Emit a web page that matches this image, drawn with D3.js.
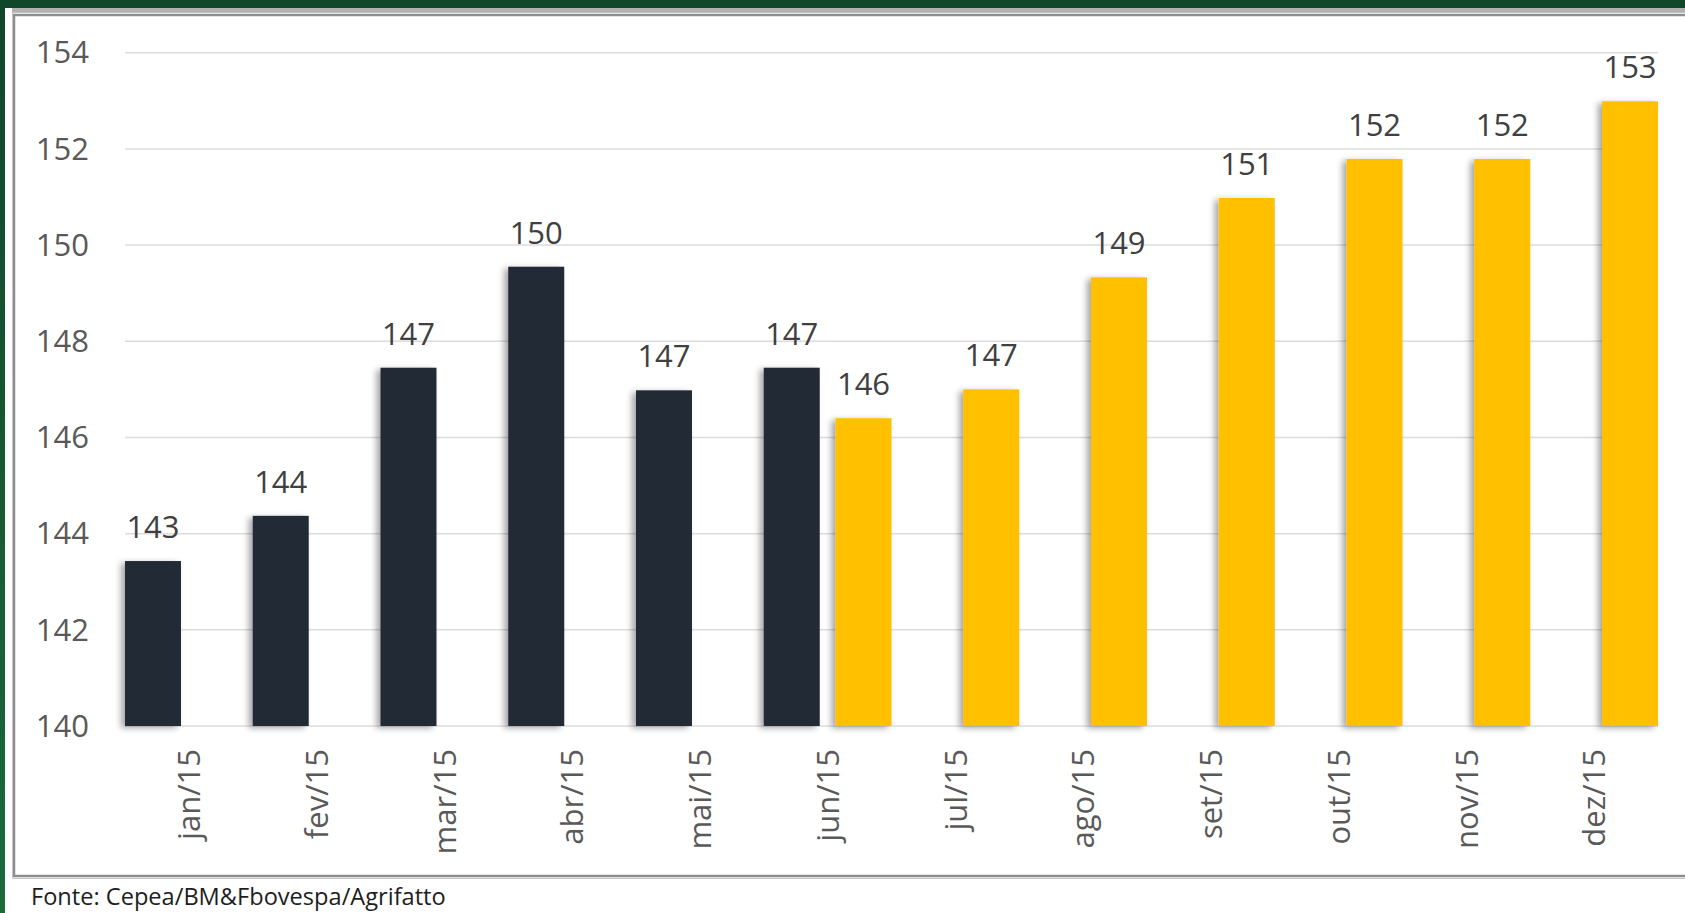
<!DOCTYPE html>
<html>
<head>
<meta charset="utf-8">
<script src="https://cdn.jsdelivr.net/npm/d3@7"></script>
<style>
  html, body { margin: 0; padding: 0; background: #fff; overflow: hidden; }
  text { font-family: "Open Sans", sans-serif; }
</style>
</head>
<body>
<div id="chart"></div>
<script>
// months on the x axis
var months = ["jan/15", "fev/15", "mar/15", "abr/15", "mai/15", "jun/15",
              "jul/15", "ago/15", "set/15", "out/15", "nov/15", "dez/15"];
// dark bars (jan-jun) and yellow bars (jun-dez)
var darkValues   = [143.43, 144.37, 147.45, 149.55, 146.98, 147.45, null, null, null, null, null, null];
var yellowValues = [null, null, null, null, null, 146.40, 147.00, 149.33, 150.98, 151.79, 151.79, 152.99];
var yTicks = [140, 142, 144, 146, 148, 150, 152, 154];
var seriesNames = ["dark", "yellow"];

var W = 1685, H = 913;
var colors = { dark: "#232a35", yellow: "#ffc000" };

var svg = d3.select("#chart").append("svg")
  .attr("width", W)
  .attr("height", H);

// shadow used by the bars
var defs = svg.append("defs");
defs.append("filter")
    .attr("id", "shadow")
    .attr("x", "-30%").attr("y", "-10%")
    .attr("width", "160%").attr("height", "120%")
  .append("feDropShadow")
    .attr("dx", -4).attr("dy", 2)
    .attr("stdDeviation", 3)
    .attr("flood-color", "#000")
    .attr("flood-opacity", 0.35);

var grad = defs.append("linearGradient")
  .attr("id", "greenSide")
  .attr("x1", 0).attr("y1", 0).attr("x2", 0).attr("y2", 1);
grad.append("stop").attr("offset", "0%").attr("stop-color", "#10462a");
grad.append("stop").attr("offset", "100%").attr("stop-color", "#1b6a3c");

// frame around the picture (slide background)
svg.append("rect").attr("x", 0).attr("y", 0).attr("width", 5).attr("height", H)
  .attr("fill", "url(#greenSide)");
svg.append("rect").attr("x", 0).attr("y", 0).attr("width", W).attr("height", 8)
  .attr("fill", "#10462a");
svg.append("rect").attr("x", 12).attr("y", 8).attr("width", W - 12).attr("height", 5)
  .attr("fill", "#b1b1b1");
svg.append("path")
  .attr("d", "M" + W + ",15 H14 V876 H" + W)
  .attr("fill", "none")
  .attr("stroke", "#8e8e8e")
  .attr("stroke-width", 2.5);
svg.append("path")
  .attr("d", "M" + W + ",12.5 H12.5 V878.5 H" + W)
  .attr("fill", "none")
  .attr("stroke", "#c4c4c4")
  .attr("stroke-width", 1);

// scales
var x = d3.scaleBand()
  .domain(months)
  .range([125, 1658])
  .paddingInner(0)
  .paddingOuter(0);

var xs = d3.scaleBand()
  .domain(seriesNames)
  .range([0, x.bandwidth()])
  .paddingInner(0.22)
  .paddingOuter(0);

var y = d3.scaleLinear()
  .domain([140, 154])
  .range([726, 52.7]);

// gridlines
svg.append("g")
  .selectAll("line")
  .data(yTicks)
  .enter()
  .append("line")
    .attr("x1", 125)
    .attr("x2", 1658)
    .attr("y1", function (d) { return y(d); })
    .attr("y2", function (d) { return y(d); })
    .attr("stroke", "#dcdcdc")
    .attr("stroke-width", 1.5);

// y axis (labels only)
var yAxis = svg.append("g")
  .attr("transform", "translate(89,0)")
  .call(d3.axisLeft(y).tickValues(yTicks).tickSize(0).tickPadding(0));
yAxis.select(".domain").remove();
yAxis.selectAll("text")
  .attr("fill", "#595959")
  .style("font-size", "31px")
  .attr("dy", "0.33em");

// x axis (rotated labels)
var xAxis = svg.append("g")
  .attr("transform", "translate(0,726)")
  .call(d3.axisBottom(x).tickSize(0).tickPadding(0));
xAxis.select(".domain").remove();
xAxis.selectAll("text")
  .attr("fill", "#595959")
  .style("font-size", "31px")
  .attr("text-anchor", "end")
  .attr("transform", "rotate(-90)")
  .attr("x", -23)
  .attr("y", 0)
  .attr("dy", "0.36em");

// one flat table for the bars
var rows = [];
months.forEach(function (m, i) {
  if (darkValues[i] !== null) rows.push({ month: m, series: "dark", value: darkValues[i] });
  if (yellowValues[i] !== null) rows.push({ month: m, series: "yellow", value: yellowValues[i] });
});

var bars = svg.append("g");
bars.selectAll("rect")
  .data(rows)
  .enter()
  .append("rect")
    .attr("x", function (d) { return x(d.month) + xs(d.series); })
    .attr("y", function (d) { return y(d.value); })
    .attr("width", xs.bandwidth())
    .attr("height", function (d) { return y(140) - y(d.value); })
    .attr("fill", function (d) { return colors[d.series]; })
    .attr("filter", "url(#shadow)");

// value labels
svg.append("g")
  .selectAll("text")
  .data(rows)
  .enter()
  .append("text")
    .attr("x", function (d) { return x(d.month) + xs(d.series) + xs.bandwidth() / 2; })
    .attr("y", function (d) { return y(d.value) - 23; })
    .attr("text-anchor", "middle")
    .attr("fill", "#404040")
    .style("font-size", "31px")
    .text(function (d) { return d3.format(".0f")(d.value); });

// source note
svg.append("text")
  .attr("x", 31)
  .attr("y", 905)
  .attr("fill", "#1e1e1e")
  .style("font-size", "23.6px")
  .text("Fonte: Cepea/BM&Fbovespa/Agrifatto");
</script>
</body>
</html>
